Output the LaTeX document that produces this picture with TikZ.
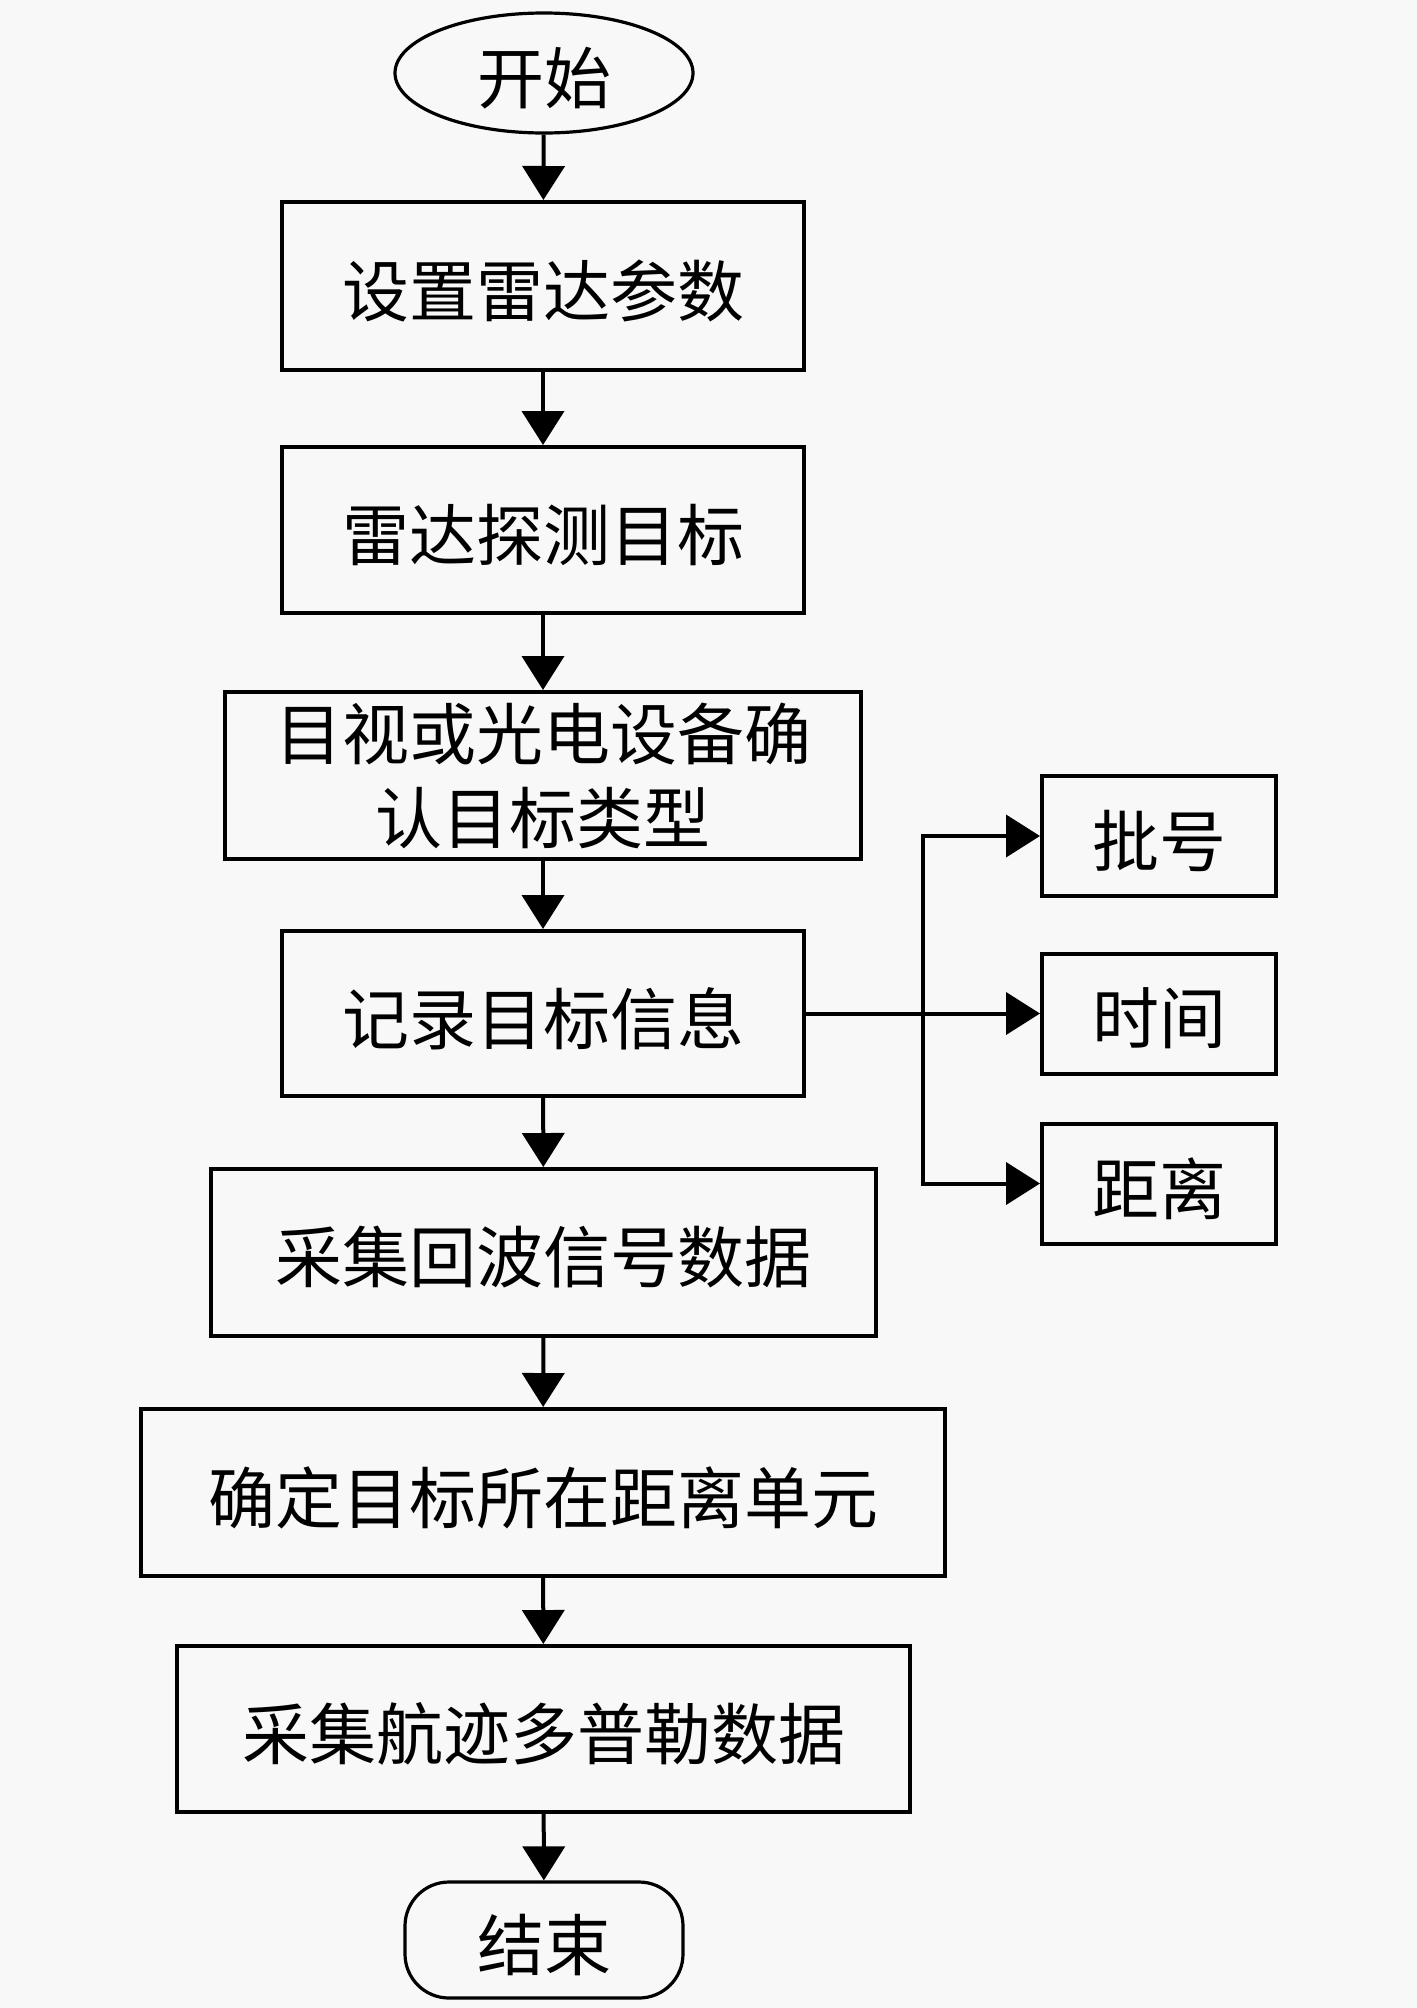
\documentclass[tikz,border=0pt]{standalone}
\usepackage{fontspec}
\newfontfamily\cjk{Noto Sans CJK SC}
\usetikzlibrary{shapes.geometric,arrows.meta}
\definecolor{bgc}{RGB}{248,248,248}
\newcommand{\lowtxt}[1]{\raisebox{-2.5pt}[\height][\depth]{#1}}
\tikzset{
  box/.style={draw=black, line width=2pt, rectangle, inner sep=0pt, align=center, font=\cjk\fontsize{33.5}{42}\selectfont},
  conn/.style={line width=2pt, -{Triangle[length=17pt,width=21pt]}},
  line/.style={line width=2pt}
}
\begin{document}
\begin{tikzpicture}[x=0.5pt,y=-0.5pt]
\fill[bgc] (0,0) rectangle (1417,2008);
\useasboundingbox (0,0) rectangle (1417,2008);
\node[box, ellipse, minimum width=149pt, minimum height=60pt, line width=1.6pt] (start) at (544,73) {\lowtxt{开始}};
\node[box, minimum width=261pt, minimum height=84pt] (b1) at (543,286) {\lowtxt{设置雷达参数}};
\node[box, minimum width=261pt, minimum height=83pt] (b2) at (543,530) {\lowtxt{雷达探测目标}};
\node[box, minimum width=318pt, minimum height=83.5pt] (b3) at (543,775.5) {目视或光电设备确\\认目标类型};
\node[box, minimum width=261pt, minimum height=82.5pt] (b4) at (543,1013.5) {\lowtxt{记录目标信息}};
\node[box, minimum width=332.5pt, minimum height=83.5pt] (b5) at (543.5,1252.5) {\lowtxt{采集回波信号数据}};
\node[box, minimum width=402pt, minimum height=83.5pt] (b6) at (543,1492.5) {\lowtxt{确定目标所在距离单元}};
\node[box, minimum width=366.5pt, minimum height=83pt] (b7) at (543.5,1729) {\lowtxt{采集航迹多普勒数据}};
\node[box, minimum width=139pt, minimum height=58pt, rounded corners=22pt, line width=1.6pt] (end) at (544,1940) {\lowtxt{结束}};
\node[box, minimum width=117pt, minimum height=60pt] (s1) at (1159,836) {\lowtxt{批号}};
\node[box, minimum width=117pt, minimum height=60pt] (s2) at (1159,1013.5) {\lowtxt{时间}};
\node[box, minimum width=117pt, minimum height=60pt] (s3) at (1159,1183.5) {\lowtxt{距离}};
\coordinate (j) at (923,1013.5);
\draw[conn] (start) -- (b1);
\draw[conn] (b1) -- (b2);
\draw[conn] (b2) -- (b3);
\draw[conn] (b3) -- (b4);
\draw[conn] (b4) -- (b5);
\draw[conn] (b5) -- (b6);
\draw[conn] (b6) -- (b7);
\draw[conn] (b7) -- (end);
\draw[conn] (b4.east) -- (s2.west);
\draw[conn] (j) |- (s1.west);
\draw[conn] (j) |- (s3.west);
\end{tikzpicture}
\end{document}
